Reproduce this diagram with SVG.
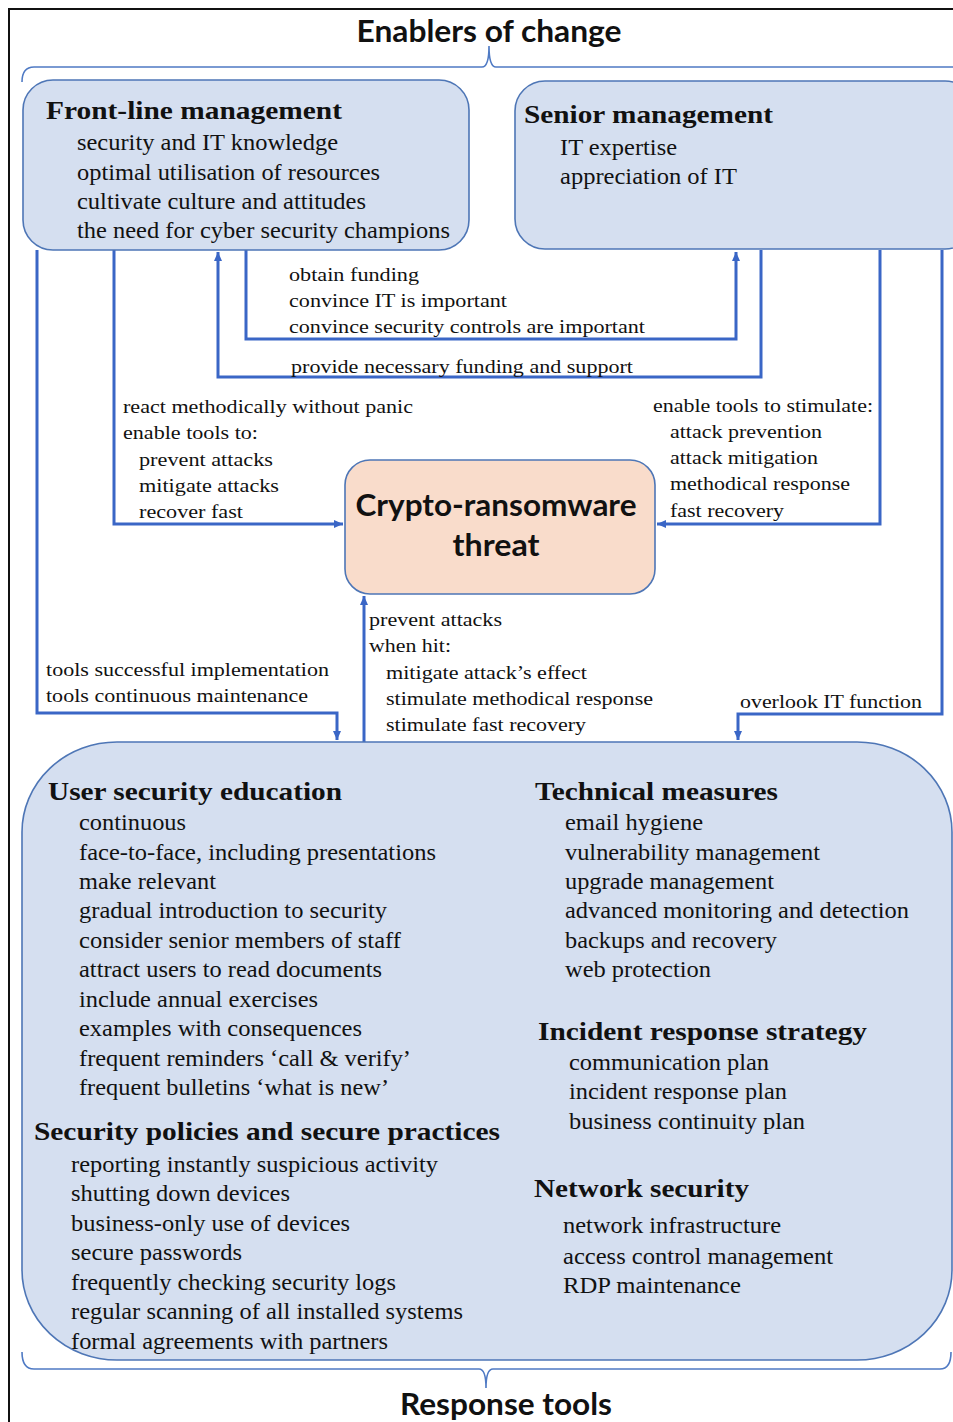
<svg xmlns="http://www.w3.org/2000/svg" width="953" height="1422" viewBox="0 0 953 1422">
<style>
.frame{fill:none;stroke:#111;stroke-width:2}
.brace{fill:none;stroke:#4f7ac4;stroke-width:1.6}
.box{fill:#d5dff0;stroke:#4e76b6;stroke-width:1.6}
.threat{fill:#f9dccb;stroke:#4e76b6;stroke-width:1.6}
.conn{fill:none;stroke:#3a66c6;stroke-width:3}
.h{font-family:"Liberation Serif","Times New Roman",serif;font-weight:bold;font-size:26px;fill:#111}
.t{font-family:"Liberation Serif","Times New Roman",serif;font-size:22.5px;fill:#111}
.c{font-family:"Liberation Serif","Times New Roman",serif;font-size:19.5px;fill:#111}
.big{font-family:Lato,"Liberation Sans",sans-serif;font-weight:bold;font-size:30px;fill:#111}
</style>
<defs>
<marker id="arr" markerWidth="10" markerHeight="10" refX="9" refY="5" orient="auto" markerUnits="userSpaceOnUse">
<path d="M0,1 L9,5 L0,9 Z" fill="#3a66c6"/>
</marker>
</defs>
<rect width="953" height="1422" fill="#fff"/>
<path class="frame" d="M9,1422 V9 H953"/>

<g id="braces">
<path class="brace" d="M22,82 Q22,67 34,67 L482,67 Q489,67 489,46 Q489,67 496,67 L953,67"/>
<path class="brace" d="M22,1352 Q22,1369 34,1369 L479,1369 Q486,1369 486,1388 Q486,1369 493,1369 L940,1369 Q951,1369 951,1352"/>
<text class="big" x="489" y="42" text-anchor="middle" textLength="265" lengthAdjust="spacingAndGlyphs">Enablers of change</text>
<text class="big" x="506" y="1415" text-anchor="middle" textLength="212" lengthAdjust="spacingAndGlyphs">Response tools</text>
</g>

<g id="connectors">
<path class="conn" d="M114,250 V524 H343" marker-end="url(#arr)"/>
<path class="conn" d="M246,250 V339 H736 V252" marker-end="url(#arr)"/>
<path class="conn" d="M761,250 V377 H218 V252" marker-end="url(#arr)"/>
<path class="conn" d="M880,250 V524 H657" marker-end="url(#arr)"/>
<path class="conn" d="M37,250 V713 H337 V740" marker-end="url(#arr)"/>
<path class="conn" d="M364,742 V596" marker-end="url(#arr)"/>
<path class="conn" d="M942,250 V714 H738 V740" marker-end="url(#arr)"/>
<text class="c" x="289" y="281" textLength="130" lengthAdjust="spacingAndGlyphs">obtain funding</text>
<text class="c" x="289" y="307" textLength="218" lengthAdjust="spacingAndGlyphs">convince IT is important</text>
<text class="c" x="289" y="333" textLength="356" lengthAdjust="spacingAndGlyphs">convince security controls are important</text>
<text class="c" x="291" y="373" textLength="342" lengthAdjust="spacingAndGlyphs">provide necessary funding and support</text>
<text class="c" x="123" y="413" textLength="290" lengthAdjust="spacingAndGlyphs">react methodically without panic</text>
<text class="c" x="123" y="439" textLength="135" lengthAdjust="spacingAndGlyphs">enable tools to:</text>
<text class="c" x="139" y="466" textLength="134" lengthAdjust="spacingAndGlyphs">prevent attacks</text>
<text class="c" x="139" y="492" textLength="140" lengthAdjust="spacingAndGlyphs">mitigate attacks</text>
<text class="c" x="139" y="518" textLength="104" lengthAdjust="spacingAndGlyphs">recover fast</text>
<text class="c" x="653" y="412" textLength="220" lengthAdjust="spacingAndGlyphs">enable tools to stimulate:</text>
<text class="c" x="670" y="438" textLength="152" lengthAdjust="spacingAndGlyphs">attack prevention</text>
<text class="c" x="670" y="464" textLength="148" lengthAdjust="spacingAndGlyphs">attack mitigation</text>
<text class="c" x="670" y="490" textLength="180" lengthAdjust="spacingAndGlyphs">methodical response</text>
<text class="c" x="670" y="517" textLength="114" lengthAdjust="spacingAndGlyphs">fast recovery</text>
<text class="c" x="369" y="626" textLength="133" lengthAdjust="spacingAndGlyphs">prevent attacks</text>
<text class="c" x="369" y="652" textLength="82" lengthAdjust="spacingAndGlyphs">when hit:</text>
<text class="c" x="386" y="679" textLength="201" lengthAdjust="spacingAndGlyphs">mitigate attack’s effect</text>
<text class="c" x="386" y="705" textLength="267" lengthAdjust="spacingAndGlyphs">stimulate methodical response</text>
<text class="c" x="386" y="731" textLength="200" lengthAdjust="spacingAndGlyphs">stimulate fast recovery</text>
<text class="c" x="46" y="676" textLength="283" lengthAdjust="spacingAndGlyphs">tools successful implementation</text>
<text class="c" x="46" y="702" textLength="262" lengthAdjust="spacingAndGlyphs">tools continuous maintenance</text>
<text class="c" x="740" y="708" textLength="182" lengthAdjust="spacingAndGlyphs">overlook IT function</text>
</g>

<g id="front-line-management">
<rect class="box" x="23" y="80" width="446" height="170" rx="30"/>
<text class="h" x="46" y="119" textLength="296" lengthAdjust="spacingAndGlyphs">Front-line management</text>
<text class="t" x="77" y="150" textLength="261" lengthAdjust="spacingAndGlyphs">security and IT knowledge</text>
<text class="t" x="77" y="180" textLength="303" lengthAdjust="spacingAndGlyphs">optimal utilisation of resources</text>
<text class="t" x="77" y="209" textLength="289" lengthAdjust="spacingAndGlyphs">cultivate culture and attitudes</text>
<text class="t" x="77" y="238" textLength="373" lengthAdjust="spacingAndGlyphs">the need for cyber security champions</text>
</g>

<g id="senior-management">
<rect class="box" x="515" y="81" width="460" height="168" rx="30"/>
<text class="h" x="524" y="123" textLength="249" lengthAdjust="spacingAndGlyphs">Senior management</text>
<text class="t" x="560" y="155" textLength="117" lengthAdjust="spacingAndGlyphs">IT expertise</text>
<text class="t" x="560" y="184" textLength="177" lengthAdjust="spacingAndGlyphs">appreciation of IT</text>
</g>

<g id="crypto-ransomware-threat">
<rect class="threat" x="345" y="460" width="310" height="134" rx="25"/>
<text class="big" x="496" y="516" text-anchor="middle" textLength="281" lengthAdjust="spacingAndGlyphs">Crypto-ransomware</text>
<text class="big" x="496" y="556" text-anchor="middle" textLength="87" lengthAdjust="spacingAndGlyphs">threat</text>
</g>

<g id="response-tools">
<rect class="box" x="22" y="742" width="930" height="618" rx="95" ry="90"/>
<text class="h" x="48" y="800" textLength="294" lengthAdjust="spacingAndGlyphs">User security education</text>
<text class="t" x="79" y="830" textLength="107" lengthAdjust="spacingAndGlyphs">continuous</text>
<text class="t" x="79" y="860" textLength="357" lengthAdjust="spacingAndGlyphs">face-to-face, including presentations</text>
<text class="t" x="79" y="889" textLength="137" lengthAdjust="spacingAndGlyphs">make relevant</text>
<text class="t" x="79" y="918" textLength="308" lengthAdjust="spacingAndGlyphs">gradual introduction to security</text>
<text class="t" x="79" y="948" textLength="322" lengthAdjust="spacingAndGlyphs">consider senior members of staff</text>
<text class="t" x="79" y="977" textLength="303" lengthAdjust="spacingAndGlyphs">attract users to read documents</text>
<text class="t" x="79" y="1007" textLength="239" lengthAdjust="spacingAndGlyphs">include annual exercises</text>
<text class="t" x="79" y="1036" textLength="283" lengthAdjust="spacingAndGlyphs">examples with consequences</text>
<text class="t" x="79" y="1066" textLength="332" lengthAdjust="spacingAndGlyphs">frequent reminders ‘call &amp; verify’</text>
<text class="t" x="79" y="1095" textLength="310" lengthAdjust="spacingAndGlyphs">frequent bulletins ‘what is new’</text>
<text class="h" x="34" y="1140" textLength="466" lengthAdjust="spacingAndGlyphs">Security policies and secure practices</text>
<text class="t" x="71" y="1172" textLength="367" lengthAdjust="spacingAndGlyphs">reporting instantly suspicious activity</text>
<text class="t" x="71" y="1201" textLength="219" lengthAdjust="spacingAndGlyphs">shutting down devices</text>
<text class="t" x="71" y="1231" textLength="279" lengthAdjust="spacingAndGlyphs">business-only use of devices</text>
<text class="t" x="71" y="1260" textLength="171" lengthAdjust="spacingAndGlyphs">secure passwords</text>
<text class="t" x="71" y="1290" textLength="325" lengthAdjust="spacingAndGlyphs">frequently checking security logs</text>
<text class="t" x="71" y="1319" textLength="392" lengthAdjust="spacingAndGlyphs">regular scanning of all installed systems</text>
<text class="t" x="71" y="1349" textLength="317" lengthAdjust="spacingAndGlyphs">formal agreements with partners</text>
<text class="h" x="535" y="800" textLength="243" lengthAdjust="spacingAndGlyphs">Technical measures</text>
<text class="t" x="565" y="830" textLength="138" lengthAdjust="spacingAndGlyphs">email hygiene</text>
<text class="t" x="565" y="860" textLength="255" lengthAdjust="spacingAndGlyphs">vulnerability management</text>
<text class="t" x="565" y="889" textLength="209" lengthAdjust="spacingAndGlyphs">upgrade management</text>
<text class="t" x="565" y="918" textLength="344" lengthAdjust="spacingAndGlyphs">advanced monitoring and detection</text>
<text class="t" x="565" y="948" textLength="212" lengthAdjust="spacingAndGlyphs">backups and recovery</text>
<text class="t" x="565" y="977" textLength="146" lengthAdjust="spacingAndGlyphs">web protection</text>
<text class="h" x="538" y="1040" textLength="329" lengthAdjust="spacingAndGlyphs">Incident response strategy</text>
<text class="t" x="569" y="1070" textLength="200" lengthAdjust="spacingAndGlyphs">communication plan</text>
<text class="t" x="569" y="1099" textLength="218" lengthAdjust="spacingAndGlyphs">incident response plan</text>
<text class="t" x="569" y="1129" textLength="236" lengthAdjust="spacingAndGlyphs">business continuity plan</text>
<text class="h" x="534" y="1197" textLength="215" lengthAdjust="spacingAndGlyphs">Network security</text>
<text class="t" x="563" y="1233" textLength="218" lengthAdjust="spacingAndGlyphs">network infrastructure</text>
<text class="t" x="563" y="1264" textLength="270" lengthAdjust="spacingAndGlyphs">access control management</text>
<text class="t" x="563" y="1293" textLength="178" lengthAdjust="spacingAndGlyphs">RDP maintenance</text>
</g>
</svg>
